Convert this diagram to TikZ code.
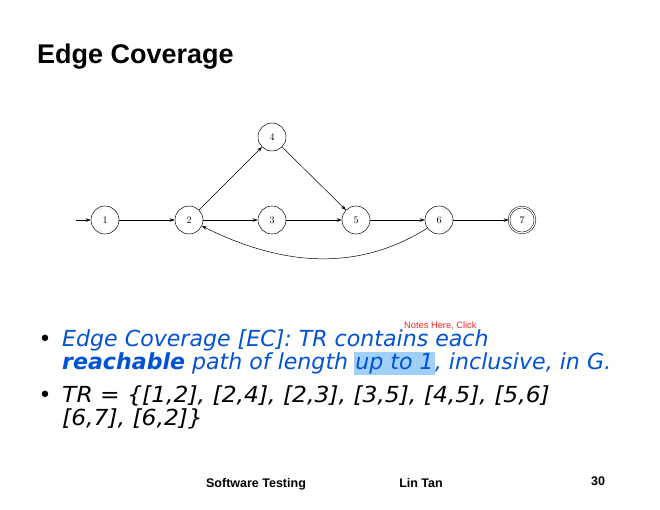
\documentclass[tikz,border=0pt]{standalone}
\usepackage{fontspec}
\setmainfont{Liberation Sans}
\newfontfamily\bodyfont{DejaVu Sans}
\newfontfamily\numfont{Latin Modern Roman}
\usetikzlibrary{arrows.meta}
\definecolor{textblue}{RGB}{0,82,214}
\definecolor{hilite}{RGB}{160,208,250}
\definecolor{notered}{RGB}{240,40,40}
\begin{document}
\begin{tikzpicture}[x=1pt,y=-1pt,
  state/.style={circle,draw,line width=0.5pt,minimum size=28pt,inner sep=0pt,font=\numfont\fontsize{10}{10}\selectfont},
  final/.style={state,double,double distance=1.2pt,minimum size=26pt},
  edge/.style={line width=0.5pt,-{Stealth[length=5pt,width=3.5pt]}},
  bullettext/.style={anchor=base west,inner sep=0pt,font=\bodyfont\itshape\fontsize{22.1}{22}\selectfont},
  bulletmark/.style={anchor=base,inner sep=0pt,font=\bodyfont\fontsize{22}{22}\selectfont},
  footer/.style={anchor=base,inner sep=0pt,font=\bfseries\fontsize{12.5}{12.5}\selectfont}]
\useasboundingbox[fill=white] (0,0) rectangle (660,510);

% title
\node[anchor=base west,inner sep=0pt,font=\bfseries\fontsize{27}{27}\selectfont] (title) at (37,64) {Edge Coverage};

% graph
\coordinate (start) at (76,220);
\node[state] (n1) at (105,220) {1};
\node[state] (n2) at (189,220) {2};
\node[state] (n3) at (272,220) {3};
\node[state] (n4) at (272,137) {4};
\node[state] (n5) at (356,220) {5};
\node[state] (n6) at (439,220) {6};
\node[final] (n7) at (522,220) {7};

\draw[edge] (start) -- (n1);
\draw[edge] (n1) -- (n2);
\draw[edge] (n2) -- (n4);
\draw[edge] (n2) -- (n3);
\draw[edge] (n3) -- (n5);
\draw[edge] (n4) -- (n5);
\draw[edge] (n5) -- (n6);
\draw[edge] (n6) -- (n7);
\draw[edge] (n6.-145) .. controls +(-70,44) and +(80,40) .. (n2.-25);

% notes label
\node[anchor=base west,inner sep=0pt,text=notered,font=\fontsize{9.3}{9.3}\selectfont] (note) at (404,328.5) {Notes Here, Click};

% bullet list
\node[bulletmark] (b1) at (45,346) {•};
\node[bullettext,text=textblue] (l1) at (62,346) {Edge Coverage [EC]: TR contains each};
\node[bullettext,text=textblue] (l2a) at (62,369) {\bfseries reachable\mdseries{} path of length\ \mbox{}};
\node[bullettext,text=textblue,fill=hilite,outer sep=0pt,inner xsep=1pt,
      text depth=6pt,text height=17pt,xshift=-1pt] (l2b) at (l2a.base east) {up to 1};
\node[bullettext,text=textblue] (l2c) at (l2b.base east) {, inclusive, in G.};
\node[bulletmark] (b2) at (45,402) {•};
\node[bullettext] (l3) at (62,402) {\scalebox{1.06}[1]{TR = \{[1,2], [2,4], [2,3], [3,5], [4,5], [5,6]}};
\node[bullettext] (l4) at (62,425) {\scalebox{1.06}[1]{[6,7], [6,2]\}}};

% footer
\node[footer] (f1) at (256,487) {Software Testing};
\node[footer] (f2) at (421,487) {Lin Tan};
\node[footer] (f3) at (598,485) {30};
\end{tikzpicture}
\end{document}
